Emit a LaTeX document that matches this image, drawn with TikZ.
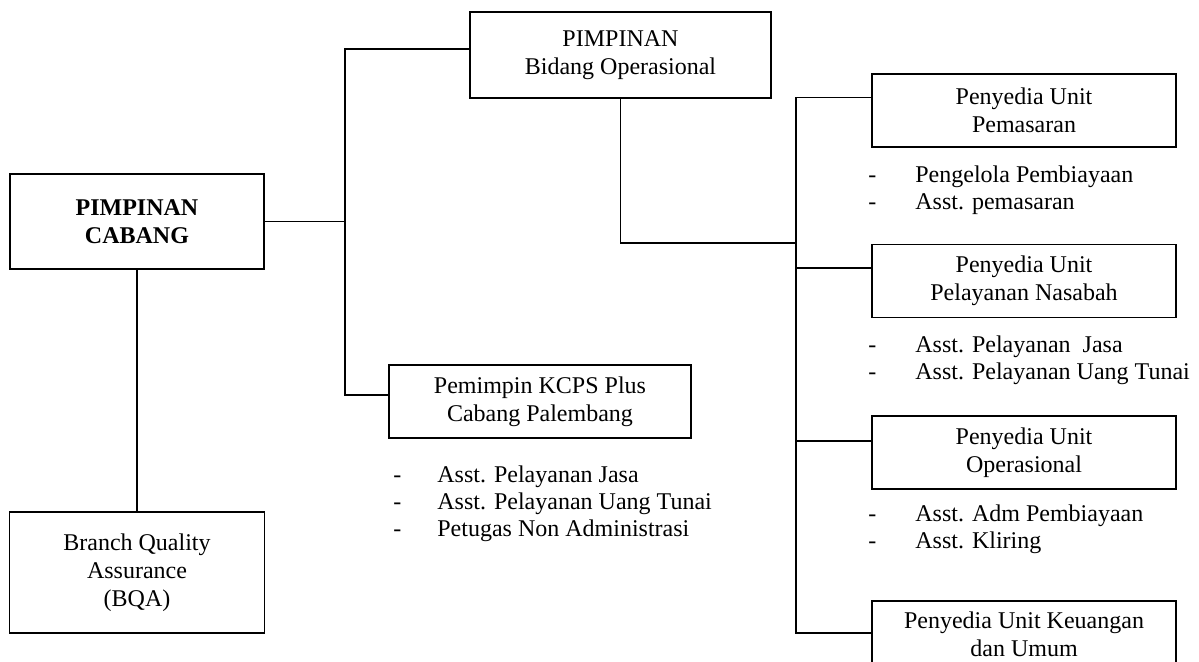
\documentclass[tikz,border=0pt]{standalone}
\usepackage{fontspec}
\setmainfont{Liberation Serif}
\usetikzlibrary{positioning}

\newcommand{\tugas}[2][22pt]{\makebox[#1][l]{-}#2}

\begin{document}
\begin{tikzpicture}[
  x=0.5pt, y=-0.5pt,
  office/.style={rectangle, draw, line width=0.8pt, minimum height=36.5pt,
                 inner sep=2pt, align=center, font=\fontsize{12}{14}\selectfont},
  wide/.style={office, minimum width=152pt},
  duty/.style={anchor=west, inner sep=0pt, align=left,
               font=\fontsize{12}{13.5}\selectfont},
  wire/.style={line width=0.8pt}
]
  \useasboundingbox (0,0) rectangle (1199,661);
  \clip (0,0) rectangle (1199,661);

  \node[office, minimum width=127pt, minimum height=47.5pt,
        font=\fontsize{12}{14}\selectfont\bfseries] (cabang) at (137,221.5) {PIMPINAN\\CABANG};
  \node[office, minimum width=150.5pt, minimum height=43pt] (bidang) at (620.5,55) {PIMPINAN\\Bidang Operasional};
  \node[office, minimum width=151pt] (kcps) at (540,401.5) {Pemimpin KCPS Plus\\Cabang Palembang};
  \node[office, minimum width=127.5pt, minimum height=60.5pt] (bqa) at (137,572.5) {Branch Quality\\Assurance\\(BQA)};

  \node[wide] (pemasaran) at (1024,110.5) {Penyedia Unit\\Pemasaran};
  \node[wide, below=48pt of pemasaran] (nasabah) {Penyedia Unit\\Pelayanan Nasabah};
  \node[wide, below=48.5pt of nasabah] (operasional) {Penyedia Unit\\Operasional};
  \node[wide, minimum height=33pt, below=55pt of operasional] (keuangan) {Penyedia Unit Keuangan\\dan Umum};

  % staff lists
  \node[duty] (kcpsstaff) at (393,503.5) {\tugas{Asst. Pelayanan Jasa}\\\tugas{Asst. Pelayanan Uang Tunai}\\\tugas{Petugas Non Administrasi}};
  \node[duty] (pemstaff) at (868,190.5) {\tugas[23.5pt]{Pengelola Pembiayaan}\\\tugas[23.5pt]{Asst. pemasaran}};
  \node[duty] (nasstaff) at (868,360) {\tugas[23.5pt]{Asst. Pelayanan\ \ Jasa}\\\tugas[23.5pt]{Asst. Pelayanan Uang Tunai}};
  \node[duty] (opsstaff) at (868,529) {\tugas[23.5pt]{Asst. Adm Pembiayaan}\\\tugas[23.5pt]{Asst. Kliring}};

  % connectors
  \coordinate (kiri) at (345,224);
  \coordinate (kanan) at (796,243);
  \draw[wire] (cabang) -- (cabang -| kiri);
  \draw[wire] ([yshift=3pt]bidang.west) -| (kiri) |- ([yshift=3.25pt]kcps.west);
  \draw[wire] (cabang) -- (bqa);
  \draw[wire] (bidang) |- (kanan);
  \foreach \n/\s in {pemasaran/6.5pt, nasabah/6.5pt, operasional/6pt, keuangan/0.5pt}
    \draw[wire] ([yshift=\s]\n.west) -| (kanan);
\end{tikzpicture}
\end{document}
